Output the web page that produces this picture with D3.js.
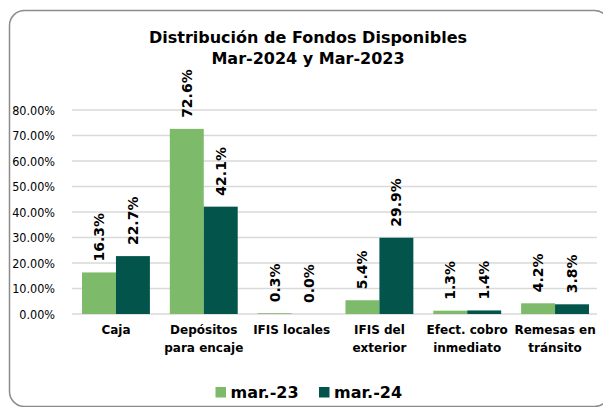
<!DOCTYPE html>
<html>
<head>
<meta charset="utf-8">
<script src="https://cdn.jsdelivr.net/npm/d3@7"></script>
<style>
  body { margin: 0; background: #fff; }
  text { font-family: "DejaVu Sans", sans-serif; fill: #000; }
</style>
</head>
<body>
<script>
const categories = [
  ["Caja"],
  ["Depósitos", "para encaje"],
  ["IFIS locales"],
  ["IFIS del", "exterior"],
  ["Efect. cobro", "inmediato"],
  ["Remesas en", "tránsito"]
];
const seriesNames = ["mar.-23", "mar.-24"];
const mar23 = [16.3, 72.6, 0.3, 5.4, 1.3, 4.2];
const mar24 = [22.7, 42.1, 0.0, 29.9, 1.4, 3.8];
const yTicks = [0, 10, 20, 30, 40, 50, 60, 70, 80];
const colors = ["#7dbb6b", "#03544a"];

const width = 603, height = 407;
const margin = { top: 110, right: 4, bottom: 93, left: 72 };

const svg = d3.select('body').append('svg')
  .attr('width', width)
  .attr('height', height);

// rounded frame
svg.append('rect')
  .attr('x', 9.5).attr('y', 10.5)
  .attr('width', 600).attr('height', 396)
  .attr('rx', 15)
  .attr('fill', 'none')
  .attr('stroke', '#8c8c8c')
  .attr('stroke-width', 1.5);

// title
svg.append('text')
  .attr('x', 308).attr('y', 43)
  .attr('text-anchor', 'middle')
  .style('font-size', '16px').style('font-weight', 'bold')
  .text('Distribución de Fondos Disponibles');
svg.append('text')
  .attr('x', 308).attr('y', 64)
  .attr('text-anchor', 'middle')
  .style('font-size', '16px').style('font-weight', 'bold')
  .text('Mar-2024 y Mar-2023');

const x = d3.scaleBand()
  .domain(d3.range(categories.length))
  .range([margin.left, width - margin.right])
  .paddingInner(0.227)
  .paddingOuter(0.114);

const y = d3.scaleLinear()
  .domain([0, 80])
  .range([height - margin.bottom, margin.top]);

// gridlines
svg.append('g')
  .selectAll('line').data(yTicks)
  .join('line')
  .attr('x1', margin.left).attr('x2', width - 6)
  .attr('y1', d => y(d)).attr('y2', d => y(d))
  .attr('stroke', '#d9d9d9')
  .attr('stroke-width', 1.3);

// y axis
const yAxis = svg.append('g')
  .attr('transform', `translate(${margin.left - 14}, 0)`)
  .call(d3.axisLeft(y).tickValues(yTicks).tickSize(0).tickFormat(d => d.toFixed(2) + '%'));
yAxis.select('.domain').remove();
yAxis.selectAll('text')
  .style('font-family', '"DejaVu Sans Condensed", "DejaVu Sans", sans-serif')
  .style('font-size', '12.5px');

const data = [mar23, mar24];
const bw = x.bandwidth() / 2;

data.forEach((vals, s) => {
  const g = svg.append('g');
  g.selectAll('rect').data(vals)
    .join('rect')
    .attr('x', (d, i) => x(i) + s * bw)
    .attr('y', d => y(d))
    .attr('width', bw)
    .attr('height', d => y(0) - y(d))
    .attr('fill', colors[s]);
  g.selectAll('text').data(vals)
    .join('text')
    .attr('transform', (d, i) => `translate(${x(i) + s * bw + bw / 2}, ${y(d) - 11}) rotate(-90)`)
    .attr('dy', '0.36em')
    .style('font-size', '14px').style('font-weight', 'bold')
    .text(d => d.toFixed(1) + '%');
});

// x labels
const xl = svg.append('g');
categories.forEach((lines, i) => {
  const t = xl.append('text')
    .attr('x', x(i) + x.bandwidth() / 2)
    .attr('y', 334)
    .attr('text-anchor', 'middle')
    .style('font-size', '12px').style('font-weight', 'bold');
  lines.forEach((ln, k) => {
    t.append('tspan')
      .attr('x', x(i) + x.bandwidth() / 2)
      .attr('dy', k === 0 ? 0 : 18)
      .text(ln);
  });
});

// legend
const legendX = [215.5, 319];
seriesNames.forEach((name, s) => {
  svg.append('rect')
    .attr('x', legendX[s]).attr('y', 387)
    .attr('width', 10.5).attr('height', 10.5)
    .attr('fill', colors[s]);
  svg.append('text')
    .attr('x', legendX[s] + 15).attr('y', 398)
    .style('font-size', '16px').style('font-weight', 'bold')
    .text(name);
});
</script>
</body>
</html>
